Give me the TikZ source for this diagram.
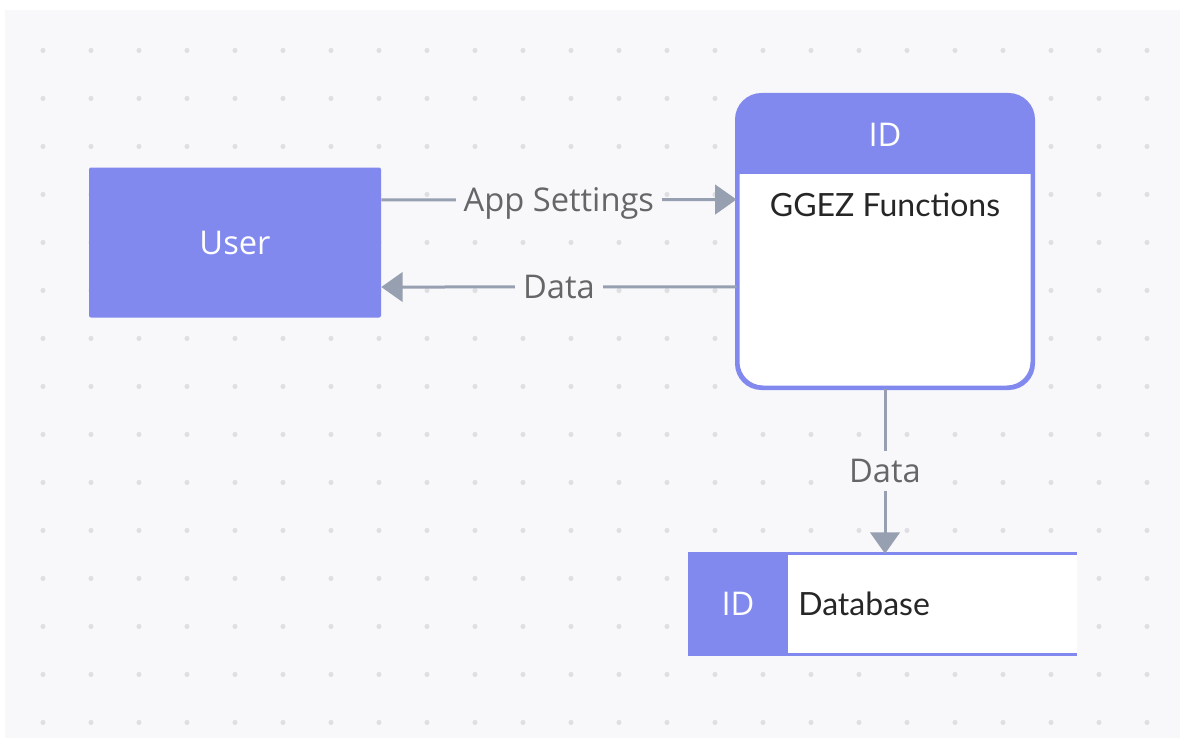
\documentclass[tikz,border=0pt]{standalone}
\usepackage{fontspec}
\setmainfont{Open Sans}
\newfontfamily\latofont{Lato}
\usetikzlibrary{arrows.meta}
\definecolor{idblue}{HTML}{8189EF}
\definecolor{flowgray}{HTML}{96A0B0}
\definecolor{canvas}{HTML}{F8F8FB}
\definecolor{griddot}{HTML}{DEDEE3}
\definecolor{labelgray}{HTML}{666666}

\begin{document}
\begin{tikzpicture}[x=0.75pt,y=-0.75pt,
    flow/.style={draw=flowgray,line width=2.25pt,-{Triangle[length=16pt,width=22pt]}},
    flowlabel/.style={fill=canvas,text=labelgray,font=\fontsize{24.5}{28}\selectfont,inner sep=6pt}]
    \tikzstyle{entity}=[rectangle,fill=idblue,text=white,rounded corners=1.5pt,
        minimum width=219pt,minimum height=112.5pt,font=\fontsize{24.5}{28}\selectfont]
    \tikzstyle{process}=[rectangle,fill=white,draw=idblue,line width=2.25pt,
        rounded corners=18.75pt,minimum width=220.5pt,minimum height=218.25pt]
    \tikzstyle{idtext}=[text=white,font=\fontsize{24.5}{28}\selectfont]
    \tikzstyle{bodytext}=[text=black!85,font=\latofont\fontsize{24}{28}\selectfont]

    \useasboundingbox (0,0) rectangle (1180,738);
    \fill[canvas] (5,10) rectangle (1180,738);
    \foreach \x in {0,...,23}
      \foreach \y in {0,...,14}
        \fill[griddot] (43+48*\x,50.5+48*\y) circle (1.9pt);

    % external entity
    \node[entity] (user) at (235,242.5) {User};

    % process
    \node[process] (proc) at (885,241.5) {};
    \begin{scope}
      \clip (700,80) rectangle (1060,173);
      \fill[idblue,rounded corners=18.75pt] (proc.north west) rectangle (proc.south east);
    \end{scope}
    \draw[idblue,line width=2.25pt,rounded corners=18.75pt] (proc.north west) rectangle (proc.south east);
    \node[idtext] (prochead) at (885,134.5) {ID};
    \node[bodytext] (procname) at (885,205) {GGEZ Functions};

    % data store
    \node[fill=white,minimum width=291.75pt,minimum height=75pt] (store) at (882.5,604) {};
    \node[fill=idblue,minimum width=75pt,minimum height=75pt,anchor=west,idtext] (storeid) at (store.west) {ID};
    \draw[idblue,line width=2.25pt] (store.north west) -- (store.north east);
    \draw[idblue,line width=2.25pt] (store.south west) -- (store.south east);
    \node[bodytext,anchor=west] (storename) at ([xshift=4pt]storeid.east) {Database};

    % flows
    \draw[flow] ([yshift=32pt]user.east) -- node[flowlabel,yshift=-2.5pt] {App Settings} ([yshift=31.5pt]proc.west);
    \draw[flow] ([yshift=-34pt]proc.west) -- node[flowlabel] {Data} ([yshift=-33.4pt]user.east);
    \draw[flow] (proc.south) -- node[flowlabel] {Data} (proc.south |- store.north);

\end{tikzpicture}
\end{document}
